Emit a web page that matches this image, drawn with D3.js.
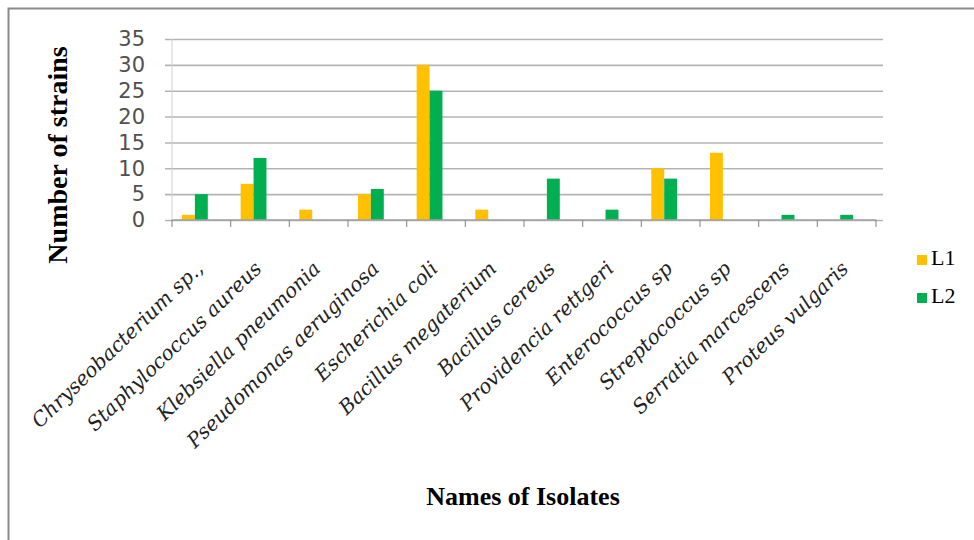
<!DOCTYPE html>
<html>
<head>
<meta charset="utf-8">
<script src="https://cdn.jsdelivr.net/npm/d3@7"></script>
<style>
  body { margin: 0; background: #fff; }
  svg { display: block; }
</style>
</head>
<body>
<div id="chart"></div>
<script>
var width = 974, height = 540;

// data
var isolates = ["Chryseobacterium sp.,", "Staphylococcus aureus", "Klebsiella pneumonia",
  "Pseudomonas aeruginosa", "Escherichia coli", "Bacillus megaterium", "Bacillus cereus",
  "Providencia rettgeri", "Enterococcus sp", "Streptococcus sp", "Serratia marcescens",
  "Proteus vulgaris"];
var seriesNames = ["L1", "L2"];
var l1 = [1, 7, 2, 5, 30, 2, 0, 0, 10, 13, 0, 0];
var l2 = [5, 12, 0, 6, 25, 0, 8, 2, 8, 0, 1, 1];
var yTicks = [0, 5, 10, 15, 20, 25, 30, 35];
var colors = { L1: "#FFC000", L2: "#00B050" };

var margin = { left: 172, right: 98, top: 39, bottom: 320 };
var plotW = width - margin.left - margin.right,
    plotH = height - margin.top - margin.bottom;

var svg = d3.select("#chart").append("svg")
    .attr("width", width)
    .attr("height", height);

// outer frame (only top and left edges show)
svg.append("path")
    .attr("d", "M8.5," + height + "V8.5H" + width)
    .attr("fill", "none")
    .attr("stroke", "#8a8a8a")
    .attr("stroke-width", 2);

var g = svg.append("g")
    .attr("transform", "translate(" + margin.left + "," + margin.top + ")");

var x = d3.scaleBand().domain(isolates).range([0, plotW]).padding(0);
// three slots per group like the spreadsheet layout, the third one stays empty
var x1 = d3.scaleBand().domain(["L1", "L2", "_"]).range([x.bandwidth() * 0.17, x.bandwidth() * 0.83]);
var y = d3.scaleLinear().domain([0, 35]).range([plotH, 0]);

// gridlines + y labels
var yAxis = d3.axisLeft(y).tickValues(yTicks).tickSize(-plotW - 7).tickSizeOuter(0).tickPadding(20);
var ya = g.append("g").attr("transform", "translate(-7,0)").call(yAxis);
ya.select(".domain").remove();
ya.selectAll(".tick line").attr("stroke", "#b4b4b4").attr("stroke-width", 1.6).attr("x1", 7 + plotW + 7).attr("x2", 0);
ya.selectAll(".tick text")
    .attr("x", -20)
    .attr("fill", "#505050")
    .style("font-family", "DejaVu Sans")
    .style("font-size", "21px");

g.append("line")
    .attr("x1", 0).attr("x2", 0).attr("y1", 0).attr("y2", plotH)
    .attr("stroke", "#d0d0d0");

// bars
var rows = isolates.map(function(name, i) {
  return { name: name, vals: [{ k: "L1", v: l1[i] }, { k: "L2", v: l2[i] }] };
});
var grp = g.selectAll(".grp")
    .data(rows)
    .enter().append("g")
    .attr("transform", function(d) { return "translate(" + x(d.name) + ",0)"; });
grp.selectAll("rect")
    .data(function(d) { return d.vals; })
    .enter().append("rect")
    .attr("x", function(d) { return x1(d.k); })
    .attr("width", x1.bandwidth())
    .attr("y", function(d) { return y(d.v); })
    .attr("height", function(d) { return plotH - y(d.v); })
    .attr("fill", function(d) { return colors[d.k]; });

// x axis with ticks between categories
var xa = g.append("g").attr("transform", "translate(0," + plotH + ")");
xa.append("line").attr("x1", 0).attr("x2", plotW).attr("stroke", "#a0a0a0").attr("stroke-width", 1.6);
xa.selectAll(".tk")
    .data(d3.range(isolates.length + 1))
    .enter().append("line")
    .attr("x1", function(i) { return i * x.step(); })
    .attr("x2", function(i) { return i * x.step(); })
    .attr("y1", 0).attr("y2", 7)
    .attr("stroke", "#808080");

xa.selectAll(".lbl")
    .data(isolates)
    .enter().append("text")
    .attr("transform", function(d) {
      return "translate(" + (x(d) + x.bandwidth() / 2 + 3) + ",50) rotate(-44)";
    })
    .attr("text-anchor", "end")
    .attr("fill", "#222")
    .style("font-family", "DejaVu Serif")
    .style("font-style", "italic")
    .style("font-size", "20px")
    .text(function(d) { return d; });

// axis titles
svg.append("text")
    .attr("transform", "translate(67,155) rotate(-90)")
    .attr("text-anchor", "middle")
    .style("font-family", "Liberation Serif")
    .style("font-weight", "bold")
    .style("font-size", "28px")
    .text("Number of strains");

svg.append("text")
    .attr("x", 523).attr("y", 505)
    .attr("text-anchor", "middle")
    .style("font-family", "Liberation Serif")
    .style("font-weight", "bold")
    .style("font-size", "26px")
    .text("Names of Isolates");

// legend
var leg = svg.selectAll(".leg")
    .data(seriesNames)
    .enter().append("g")
    .attr("transform", function(d, i) { return "translate(917," + (255 + i * 38) + ")"; });
leg.append("rect").attr("width", 10).attr("height", 10).attr("fill", function(d) { return colors[d]; });
leg.append("text")
    .attr("x", 14).attr("y", 10)
    .style("font-family", "Liberation Serif")
    .style("font-size", "22px")
    .text(function(d) { return d; });
</script>
</body>
</html>
